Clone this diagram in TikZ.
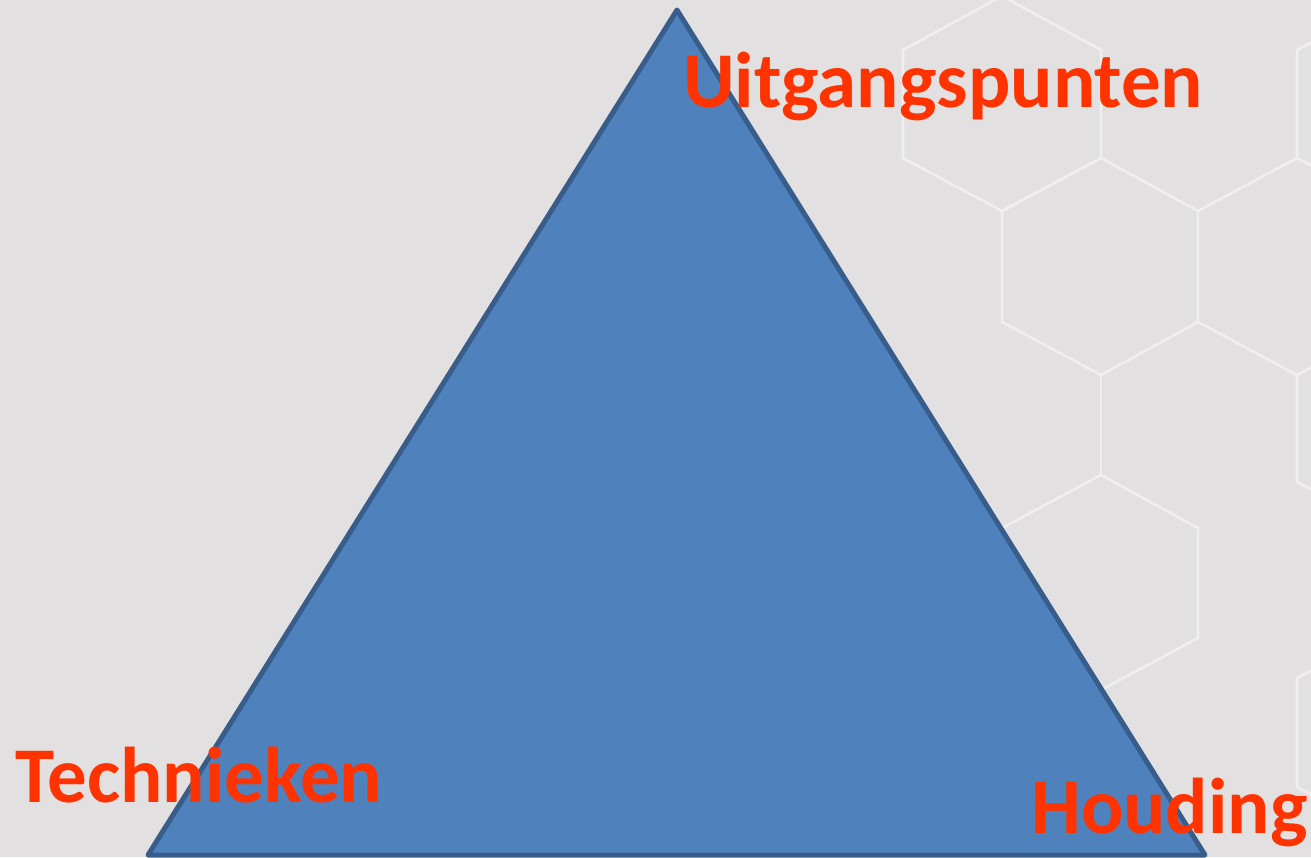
\documentclass[tikz,border=0pt]{standalone}
\usepackage{fontspec}
\setmainfont{Carlito}
\definecolor{bgc}{HTML}{E2E0E1}
\definecolor{hexline}{HTML}{F0EFF0}
\definecolor{trifill}{HTML}{4F81BD}
\definecolor{triline}{HTML}{385D8A}
\definecolor{labelc}{HTML}{FF3300}
\tikzset{
  hexedge/.style={draw=hexline, line width=2.6pt, line join=miter},
  tri/.style={fill=trifill, draw=triline, line width=5pt, line join=round},
  corner/.style={font=\bfseries\fontsize{79}{88}\selectfont, text=labelc, inner sep=0pt, anchor=base west}
}
\begin{document}
\begin{tikzpicture}[x=1pt,y=-1pt]
  % canvas
  \fill[bgc] (0,0) rectangle (1311,857);
  \useasboundingbox (0,0) rectangle (1311,857);

  % honeycomb pattern in the upper right
  \draw[hexedge] (1002,-4) -- (1101,50) -- (1101,158) -- (1002,211) -- (903,158) -- (903,50) -- cycle;
  \draw[hexedge] (1101,158) -- (1198,211) -- (1198,322) -- (1101,375) -- (1002,322) -- (1002,211) -- cycle;
  \draw[hexedge] (1198,211) -- (1297,158) -- (1297,50) -- (1320,38);
  \draw[hexedge] (1297,158) -- (1320,170);
  \draw[hexedge] (1198,322) -- (1297,375) -- (1297,482) -- (1320,494);
  \draw[hexedge] (1297,375) -- (1320,363);
  \draw[hexedge] (1101,375) -- (1101,475);
  \draw[hexedge] (1101,475) -- (1198,528) -- (1198,638) -- (1101,690) -- (1002,638) -- (1002,528) -- cycle;
  \draw[hexedge] (1320,666) -- (1297,678) -- (1297,787) -- (1320,799);

  % triangle
  \coordinate (top) at (677,10);
  \coordinate (left) at (148,855);
  \coordinate (right) at (1205,855);
  \draw[tri] (top) -- (right) -- (left) -- cycle;

  % corner labels
  \node[corner] (uitg) at (683,107) {Uitgangspunten};
  \node[corner] (tech) at (15,802) {Technieken};
  \node[corner] (houd) at (1031,833) {Houding};
\end{tikzpicture}
\end{document}
